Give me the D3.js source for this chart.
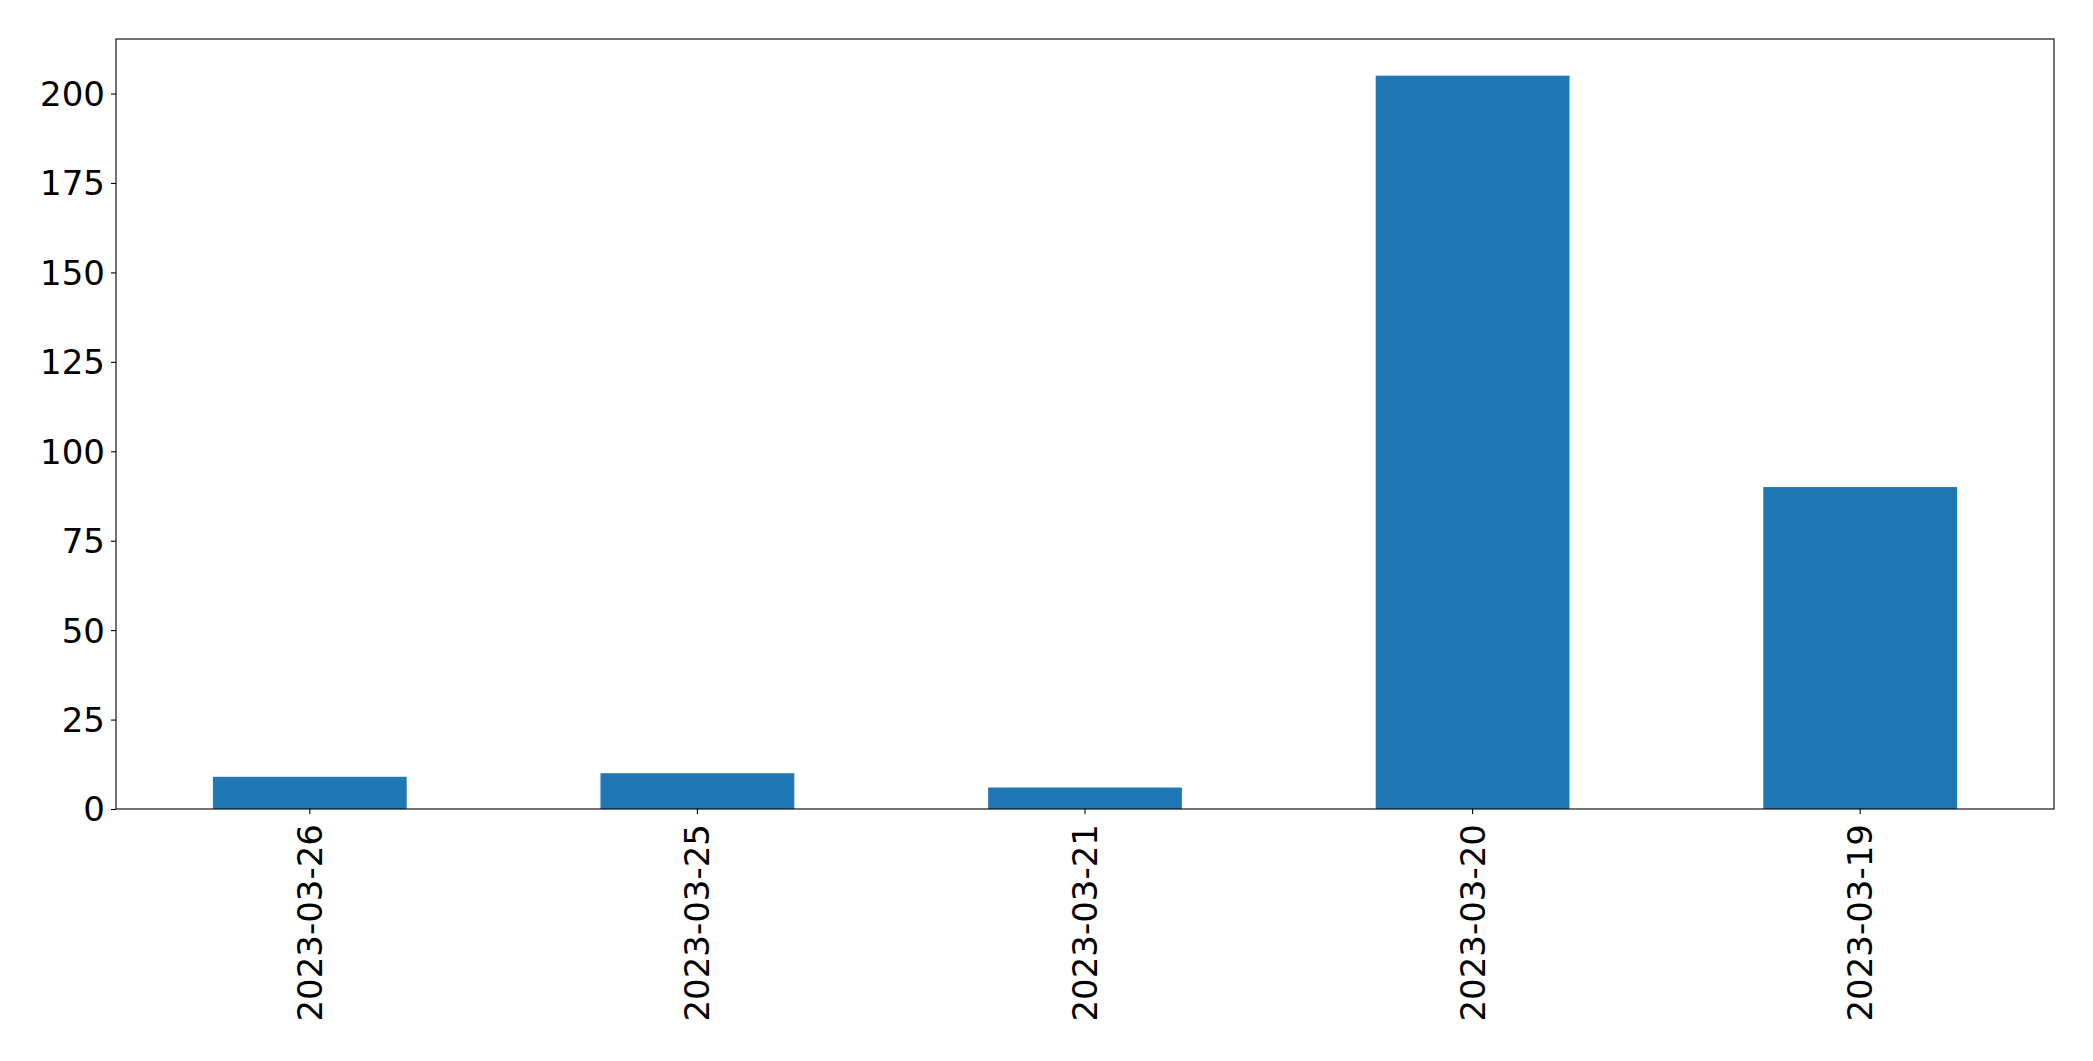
<!DOCTYPE html>
<html><head><meta charset="utf-8">
<script src="https://cdn.jsdelivr.net/npm/d3@7"></script>
<style>html,body{margin:0;padding:0;background:#fff;}</style>
</head><body>
<svg id="chart" width="2093" height="1061"></svg>
<script>
const categories = ["2023-03-26", "2023-03-25", "2023-03-21", "2023-03-20", "2023-03-19"];
const values = [9, 10, 6, 205, 90];
const yTicks = [0, 25, 50, 75, 100, 125, 150, 175, 200];

const W = 2093, H = 1061;
const m = {left: 116, right: 2054, top: 39, bottom: 809};
const svg = d3.select("#chart");
const font = "DejaVu Sans, sans-serif";
const fs = 34;

const x = d3.scaleBand().domain(categories).range([m.left, m.right]).paddingInner(0.5).paddingOuter(0.25);
const yMax = d3.max(values) * 1.05;
const y = d3.scaleLinear().domain([0, yMax]).range([m.bottom, m.top]);

svg.append("g").selectAll("rect").data(values).join("rect")
  .attr("x", (d, i) => x(categories[i]))
  .attr("width", x.bandwidth())
  .attr("y", d => y(d))
  .attr("height", d => y(0) - y(d))
  .attr("fill", "#1f77b4");

const yAxis = svg.append("g").attr("transform", `translate(${m.left},0)`)
  .call(d3.axisLeft(y).tickValues(yTicks).tickSize(5).tickPadding(6).tickFormat(d3.format("d")));
yAxis.select(".domain").remove();
yAxis.selectAll("text").attr("font-family", font).attr("font-size", fs).attr("fill", "#000").attr("dy", "0.35em");
yAxis.selectAll("line").attr("stroke", "#000").attr("stroke-width", 1.1);

const xAxis = svg.append("g").attr("transform", `translate(0,${m.bottom})`)
  .call(d3.axisBottom(x).tickSize(5).tickPadding(0));
xAxis.select(".domain").remove();
xAxis.selectAll("line").attr("stroke", "#000").attr("stroke-width", 1.1);
xAxis.selectAll("text")
  .attr("font-family", font).attr("font-size", fs).attr("fill", "#000")
  .attr("transform", "rotate(-90)")
  .attr("text-anchor", "end")
  .attr("x", -15).attr("y", 0).attr("dy", "0.35em");

svg.append("rect").attr("x", m.left).attr("y", m.top)
  .attr("width", m.right - m.left).attr("height", m.bottom - m.top)
  .attr("fill", "none").attr("stroke", "#000").attr("stroke-width", 1.1);
</script>
</body></html>
